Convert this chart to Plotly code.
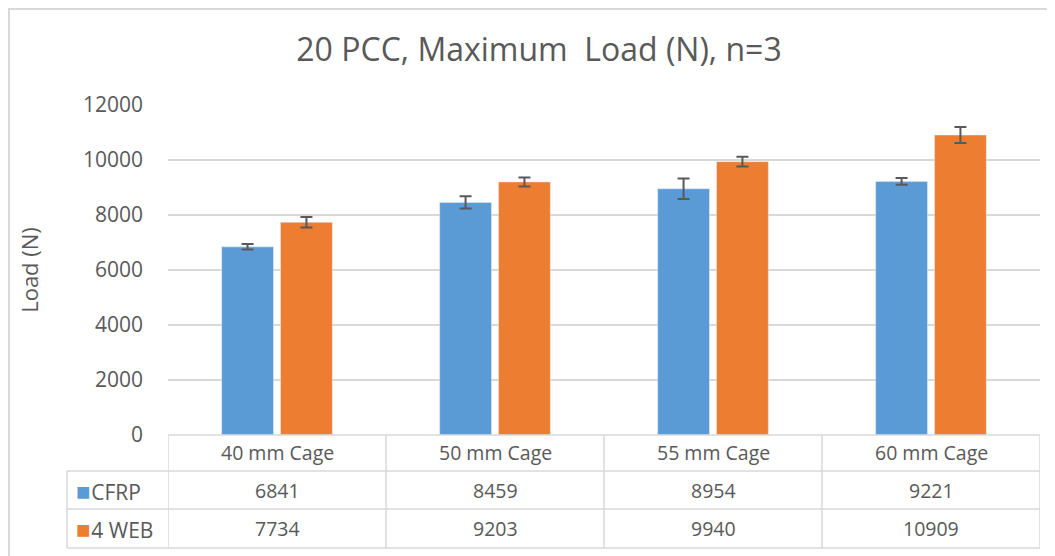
import plotly.graph_objects as go

# donnees
cages = ["40 mm Cage", "50 mm Cage", "55 mm Cage", "60 mm Cage"]
cfrp = [6841, 8459, 8954, 9221]
web4 = [7734, 9203, 9940, 10909]
cfrp_err = [100, 220, 370, 120]
web4_err = [190, 165, 180, 290]
series_names = ["CFRP", "4 WEB"]
y_ticks = [0, 2000, 4000, 6000, 8000, 10000, 12000]

BLUE = "#5B9BD5"
ORANGE = "#ED7D31"
GREY_TXT = "#595959"
GRID = "#D9D9D9"
FONT = "Open Sans"
OFF = 8  # marge du body html

fig = go.Figure()
fig.add_trace(go.Bar(x=cages, y=cfrp, name=series_names[0], marker=dict(color=BLUE),
                     error_y=dict(type="data", array=cfrp_err, color=GREY_TXT, thickness=2, width=6)))
fig.add_trace(go.Bar(x=cages, y=web4, name=series_names[1], marker=dict(color=ORANGE),
                     error_y=dict(type="data", array=web4_err, color=GREY_TXT, thickness=2, width=6)))

# --- tableau de donnees sous le graphique (coordonnees papier) ---
W, H = 872, 330  # taille de la zone de trace en px
def py(px):
    return (435 - px) / H
def px_x(px):
    return (px - 168) / W

row_y = [py(453), py(490), py(528.5)]
line_y = [py(471), py(509), py(548)]
left = px_x(67)

shapes = []
# lignes horizontales
shapes.append(dict(type="line", xref="paper", yref="paper", x0=0, x1=1, y0=0, y1=0,
                   line=dict(color=GRID, width=1.5)))
for ly in line_y:
    shapes.append(dict(type="line", xref="paper", yref="paper", x0=left, x1=1, y0=ly, y1=ly,
                       line=dict(color=GRID, width=1.5)))
# lignes verticales
shapes.append(dict(type="line", xref="paper", yref="paper", x0=left, x1=left, y0=line_y[0], y1=line_y[-1],
                   line=dict(color=GRID, width=1.5)))
for i in range(len(cages) + 1):
    shapes.append(dict(type="line", xref="x", yref="paper", x0=i - 0.5, x1=i - 0.5, y0=0, y1=line_y[-1],
                       line=dict(color=GRID, width=1.5)))
# bordure exterieure du graphique
shapes.append(dict(type="rect", xref="paper", yref="paper", x0=px_x(9), x1=px_x(1070), y0=py(9), y1=py(570),
                   line=dict(color=GRID, width=2)))

txt_font = dict(size=19.5, color=GREY_TXT, family=FONT)
annotations = []
for i, c in enumerate(cages):
    for val, ry in zip([c, cfrp[i], web4[i]], row_y):
        annotations.append(dict(x=i, y=ry, xref="x", yref="paper", xanchor="center", yanchor="middle",
                                text=str(val), showarrow=False, font=txt_font))
for name, col, ry in zip(series_names, [BLUE, ORANGE], row_y[1:]):
    annotations.append(dict(x=px_x(74), y=ry, xref="paper", yref="paper", xanchor="left", yanchor="middle",
                            text="<span style='color:%s;font-size:24px'>■</span><span style='font-size:3px'> </span>%s" % (col, name),
                            showarrow=False, font=dict(size=21, color=GREY_TXT, family=FONT)))

fig.update_layout(
    width=1055 - OFF, height=556 - OFF,
    margin=dict(l=168 - OFF, r=15, t=105 - OFF, b=121),
    paper_bgcolor="white", plot_bgcolor="white",
    title=dict(text="20 PCC, Maximum&nbsp; Load (N), n=3", x=(539 - OFF) / (1055 - OFF), xanchor="center",
               y=1 - (50 - OFF) / (556 - OFF), yanchor="middle",
               font=dict(size=32, color=GREY_TXT, family=FONT)),
    showlegend=False,
    barmode="group", bargap=0.46, bargroupgap=0.12,
    xaxis=dict(showticklabels=False, showgrid=False, zeroline=False, range=[-0.5, 3.5]),
    yaxis=dict(range=[0, 12000], tickvals=y_ticks, tickformat="d", showgrid=True, gridcolor=GRID, gridwidth=1.5,
               zeroline=False, ticklabelstandoff=24,
               tickfont=dict(size=21, color=GREY_TXT, family=FONT),
               title=dict(text="Load (N)", standoff=38, font=dict(size=22, color=GREY_TXT, family=FONT))),
    shapes=shapes, annotations=annotations,
)

fig.write_html("out.html")
